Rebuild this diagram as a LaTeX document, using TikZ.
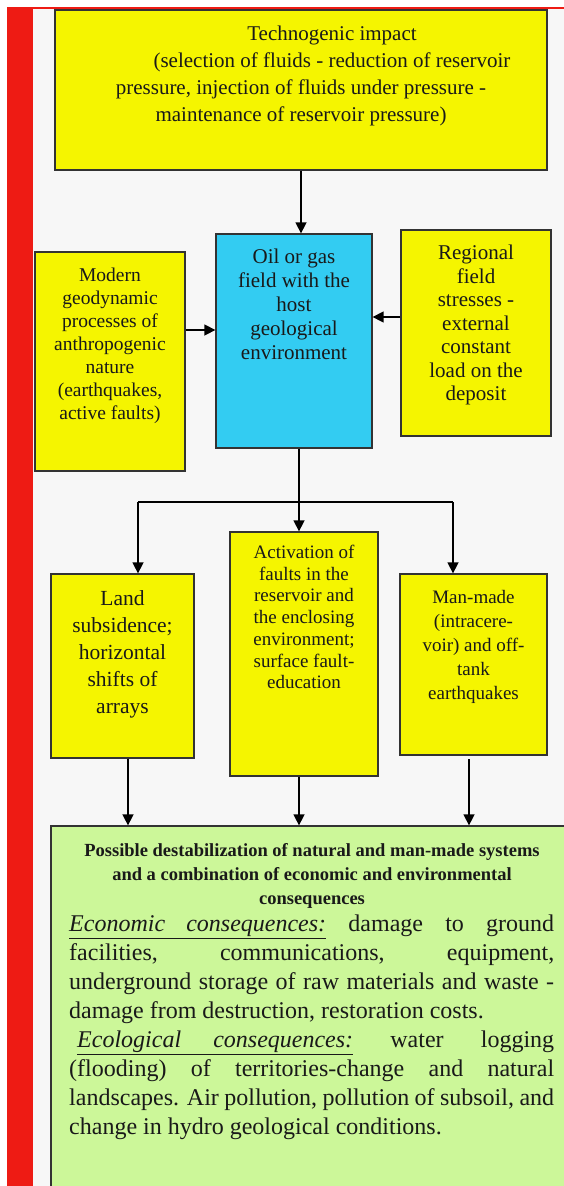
\documentclass[tikz,border=0pt]{standalone}
\usepackage{fontspec}
\setmainfont{Liberation Serif}
\usetikzlibrary{arrows.meta}
\definecolor{yel}{RGB}{245,245,0}
\definecolor{blu}{RGB}{51,204,242}
\definecolor{grn}{RGB}{204,247,153}
\definecolor{redbar}{RGB}{238,27,20}
\definecolor{bgc}{RGB}{247,247,247}
\newcommand\fsz[2]{\fontsize{#1}{#2}\selectfont}
\newcommand\ulbox[2]{\underline{\makebox[#1][s]{\textit{#2}}}}
\begin{document}
\begin{tikzpicture}[x=1pt,y=-1pt,
  box/.style={draw=black!80, line width=1.3pt, inner sep=0pt},
  txt/.style={inner sep=0pt, align=center, anchor=north, text=black!90},
  ln/.style={line width=1.5pt},
  arr/.style={line width=1.5pt, -{Triangle[length=11pt,width=11pt]}}]
\clip (0,0) rectangle (564,1186);
\fill[white] (0,0) rectangle (564,1186);
\fill[bgc] (33,9) rectangle (564,1186);
\fill[redbar] (7,7) rectangle (33,1186);
\fill[redbar] (7,7) rectangle (564,9);

% boxes
\node[box, fill=yel, minimum width=492pt, minimum height=160pt] (tech) at (301,90) {};
\node[box, fill=blu, minimum width=156pt, minimum height=214pt] (field) at (294,341) {};
\node[box, fill=yel, minimum width=150pt, minimum height=219pt] (modern) at (110,361.5) {};
\node[box, fill=yel, minimum width=150pt, minimum height=206pt] (regional) at (476,333) {};
\node[box, fill=yel, minimum width=143pt, minimum height=184pt] (land) at (122.5,666) {};
\node[box, fill=yel, minimum width=148pt, minimum height=244pt] (act) at (304,654) {};
\node[box, fill=yel, minimum width=147pt, minimum height=181pt] (quake) at (473.5,664.5) {};
\node[box, fill=grn, minimum width=524pt, minimum height=374pt] (cons) at (313,1013) {};

% texts
\node[txt, font=\fsz{21}{27}] (tech-t) at (301,25.7) {\hspace*{62pt}Technogenic impact\\
\hspace*{62pt}(selection of fluids - reduction of reservoir\\
pressure, injection of fluids under pressure -\\
maintenance of reservoir pressure)};
\node[txt, font=\fsz{21}{24}] (field-t) at (294,249) {Oil or gas\\field with the\\host\\geological\\environment};
\node[txt, font=\fsz{19.5}{23}] (modern-t) at (110,268) {Modern\\geodynamic\\processes of\\anthropogenic\\nature\\(earthquakes,\\active faults)};
\node[txt, font=\fsz{21}{23.5}] (regional-t) at (476,245) {Regional\\field\\stresses -\\external\\constant\\load on the\\deposit};
\node[txt, font=\fsz{21.5}{27}] (land-t) at (122.5,590) {Land\\subsidence;\\horizontal\\shifts of\\arrays};
\node[txt, font=\fsz{19}{21.7}] (act-t) at (304,545) {Activation of\\faults in the\\reservoir and\\the enclosing\\environment;\\surface fault-\\education};
\node[txt, font=\fsz{19}{24}] (quake-t) at (473.5,590) {Man-made\\(intracere-\\voir) and off-\\tank\\earthquakes};
\node[txt, font=\bfseries\fsz{18.5}{24}] (cons-title) at (312,843) {Possible destabilization of natural and man-made systems\\and a combination of economic and environmental\\consequences};
\node[inner sep=0pt, anchor=north west, align=left, font=\fsz{24}{29}, text=black!90] (cons-body) at (69,915) {%
\makebox[485pt][s]{\ulbox{257pt}{Economic consequences:} damage to ground}\\
\makebox[485pt][s]{facilities, communications, equipment,}\\
\makebox[485pt][s]{underground storage of raw materials and waste -}\\
\makebox[485pt][l]{damage from destruction, restoration costs.}\\
\hspace*{8pt}\makebox[477pt][s]{\ulbox{276pt}{Ecological consequences:} water logging}\\
\makebox[485pt][s]{(flooding) of territories-change and natural}\\
\makebox[485pt][s]{landscapes. Air pollution, pollution of subsoil, and}\\
\makebox[485pt][l]{change in hydro geological conditions.}};

% connectors
\draw[arr] (tech.south) -- (tech.south |- field.north);
\draw[arr] (modern.east |- 0,330) -- (field.west |- 0,330);
\draw[arr] (regional.west |- 0,317) -- (field.east |- 0,317);
\coordinate (j) at (299,502);
\coordinate (jl) at (138,502);
\coordinate (jr) at (453,502);
\draw[ln] (field.south -| j) -- (j);
\draw[ln] (jl) -- (jr);
\draw[arr] (j) -- (j |- act.north);
\draw[arr] (jl) -- (jl |- land.north);
\draw[arr] (jr) -- (jr |- quake.north);
\draw[arr] (land.south -| 128,0) -- (cons.north -| 128,0);
\draw[arr] (act.south -| 299,0) -- (cons.north -| 299,0);
\draw[arr] (469,759) -- (cons.north -| 469,0);
\end{tikzpicture}
\end{document}
